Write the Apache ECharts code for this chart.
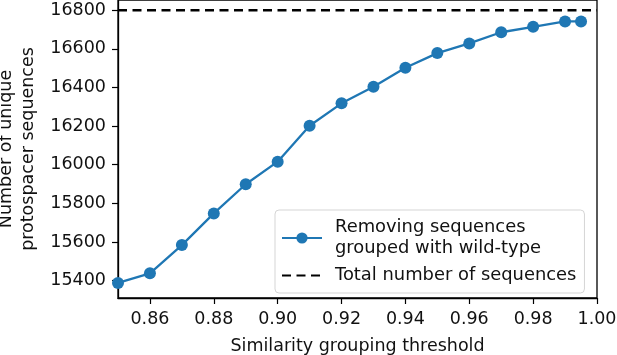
<!DOCTYPE html>
<html>
<head>
<meta charset="utf-8">
<script src="https://cdn.jsdelivr.net/npm/echarts@6/dist/echarts.min.js"></script>
<style>
  html, body { margin: 0; padding: 0; background: #fff; }
  #chart { width: 617px; height: 355px; }
</style>
</head>
<body>
<div id="chart"></div>
<script>
var thresholds = [0.85, 0.86, 0.87, 0.88, 0.89, 0.90, 0.91, 0.92, 0.93, 0.94, 0.95, 0.96, 0.97, 0.98, 0.99, 0.995];
var uniqueCounts = [15388, 15438, 15584, 15748, 15899, 16016, 16202, 16318, 16404, 16502, 16578, 16628, 16686, 16714, 16742, 16742];
var totalSequences = 16800;
var xTicks = [0.86, 0.88, 0.90, 0.92, 0.94, 0.96, 0.98, 1.00];
var yTicks = [15400, 15600, 15800, 16000, 16200, 16400, 16600, 16800];

var font = 'DejaVu Sans';
var fs = 17.5;
var dom = document.getElementById('chart');
var chart = echarts.init(dom, null, { renderer: 'canvas' });

var lineData = thresholds.map(function (t, i) { return [t, uniqueCounts[i]]; });

var option = {
    animation: false,
    textStyle: { fontFamily: font },
    grid: {
        left: 118, right: 20, top: 0, bottom: 57,
        outerBoundsMode: 'none',
        show: true, borderColor: '#000', borderWidth: 1.3
    },
    legend: {
        orient: 'vertical',
        left: 275,
        top: 210,
        padding: [7, 8, 7, 6],
        itemGap: 6,
        itemWidth: 40,
        itemHeight: 14,
        backgroundColor: '#fff',
        borderColor: '#d5d5d5',
        borderWidth: 1,
        borderRadius: 4,
        textStyle: { fontFamily: font, fontSize: 17.9, color: '#111', lineHeight: 21, padding: [0, 0, 0, 8] },
        data: [
            { name: 'Removing sequences\ngrouped with wild-type' },
            { name: 'Total number of sequences', itemStyle: { color: 'rgba(0,0,0,0)', borderWidth: 0 } }
        ]
    },
    xAxis: {
        type: 'value',
        min: 0.85,
        max: 1.0,
        name: 'Similarity grouping threshold',
        nameLocation: 'middle',
        nameGap: 39,
        nameTextStyle: { fontFamily: font, fontSize: fs, color: '#111' },
        axisLine: { onZero: false, lineStyle: { color: '#000', width: 1.3 } },
        axisTick: { show: true, length: 6, customValues: xTicks, lineStyle: { color: '#000', width: 1.2 } },
        axisLabel: {
            customValues: xTicks,
            fontFamily: font, fontSize: fs, color: '#111', margin: 12,
            formatter: function (v) { return v.toFixed(2); }
        },
        splitLine: { show: false }
    },
    yAxis: {
        type: 'value',
        min: 15310,
        max: 16853,
        name: 'Number of unique\nprotospacer sequences',
        nameLocation: 'middle',
        nameGap: 70,
        nameTextStyle: { fontFamily: font, fontSize: fs, color: '#111', lineHeight: 22 },
        axisLine: { show: true, onZero: false, lineStyle: { color: '#000', width: 1.3 } },
        axisTick: { show: true, length: 6, customValues: yTicks, lineStyle: { color: '#000', width: 1.2 } },
        axisLabel: {
            customValues: yTicks,
            fontFamily: font, fontSize: fs, color: '#111', margin: 12,
            formatter: function (v) { return String(v); }
        },
        splitLine: { show: false }
    },
    series: [
        {
            name: 'Removing sequences\ngrouped with wild-type',
            type: 'line',
            data: lineData,
            symbol: 'circle',
            symbolSize: 12,
            itemStyle: { color: '#1f77b4' },
            lineStyle: { color: '#1f77b4', width: 2.3 },
            z: 3
        },
        {
            name: 'Total number of sequences',
            type: 'line',
            data: [[0.85, totalSequences], [1.0, totalSequences]],
            symbol: 'none',
            itemStyle: { color: '#000' },
            lineStyle: { color: '#000', width: 2.3, type: [9, 5.5] },
            z: 2
        }
    ]
};

chart.setOption(option);
</script>
</body>
</html>
